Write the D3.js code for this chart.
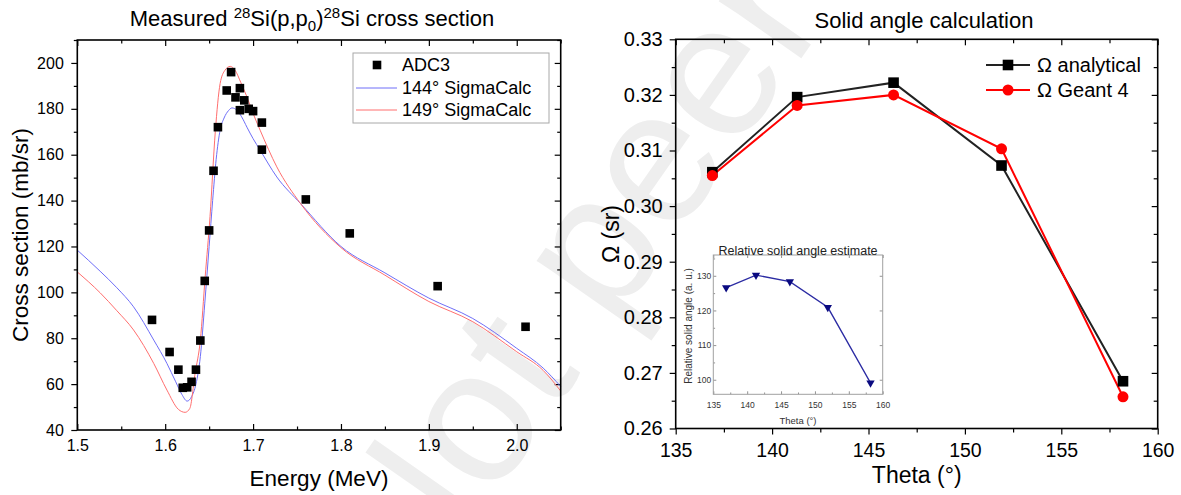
<!DOCTYPE html>
<html>
<head>
<meta charset="utf-8">
<script src="https://cdn.jsdelivr.net/npm/d3@7"></script>
<style>
    body { margin: 0; background: #fff; }
    svg { display: block; font-family: 'Liberation Sans', Arial, sans-serif; }
    .tick line { stroke: #000; stroke-width: 1.2; }
    .inset .tick line { stroke: #777; stroke-width: 0.8; }
</style>
</head>
<body>
<svg id="chart" width="1181" height="495"></svg>
<script>
// measured 28Si(p,p0) points
const adcEnergy = [1.585, 1.605, 1.615, 1.62, 1.625, 1.63, 1.635, 1.64, 1.645, 1.65, 1.655, 1.66, 1.67,
    1.675, 1.68, 1.685, 1.685, 1.69, 1.695, 1.70, 1.71, 1.71, 1.76, 1.81, 1.91, 2.01];
const adcSigma = [88, 74, 66.3, 58.4, 58.6, 61, 66.3, 79, 105, 127, 153, 172, 188,
    196, 185, 189, 179.4, 183.7, 180, 179, 174, 162.2, 140.5, 125.7, 102.7, 85];

// SigmaCalc curves
const calc144Energy = [1.50, 1.526, 1.545, 1.564, 1.587, 1.602, 1.612, 1.619, 1.625, 1.630, 1.635, 1.640, 1.645,
    1.650, 1.654, 1.658, 1.6625, 1.667, 1.672, 1.676, 1.6815, 1.687, 1.693, 1.700, 1.708, 1.727, 1.754, 1.80,
    1.85, 1.90, 1.95, 2.00, 2.03, 2.05];
const calc144Sigma = [118.4, 109.2, 102, 93.7, 79.2, 69.0, 61, 55.5, 52.6, 54.5, 60, 72, 95,
    120, 140, 158, 170.7, 176, 179.2, 180.4, 179.4, 176.5, 172, 167, 162, 150.3, 138.7, 120,
    108.5, 97.5, 88.6, 75.6, 67, 59];
const calc149Energy = [1.50, 1.526, 1.545, 1.564, 1.587, 1.602, 1.615, 1.6227, 1.628, 1.634, 1.640, 1.6455, 1.651,
    1.657, 1.6625, 1.668, 1.674, 1.6796, 1.686, 1.693, 1.700, 1.708, 1.727, 1.754, 1.80,
    1.85, 1.90, 1.95, 2.00, 2.03, 2.05];
const calc149Sigma = [108.9, 99.8, 92, 83.6, 69, 57.4, 49, 47.7, 49.4, 64.7, 79.2, 106.8, 133,
    170, 191, 196.8, 198.5, 196.8, 191.5, 185.2, 178, 170.7, 154.7, 138.7, 119.5,
    107.5, 96, 87.2, 74.1, 66, 57];

// solid angle
const theta = [136.9, 141.3, 146.3, 151.9, 158.2];
const omegaAnalytical = [0.3061, 0.3196, 0.3222, 0.3073, 0.2685];
const omegaGeant = [0.3055, 0.3181, 0.3200, 0.3103, 0.2657];
const relativeSolidAngle = [126.6, 130.2, 128.3, 120.9, 99.1];

const leftXTicks = [1.5, 1.6, 1.7, 1.8, 1.9, 2.0];
const leftYTicks = [40, 60, 80, 100, 120, 140, 160, 180, 200];
const rightXTicks = [135, 140, 145, 150, 155, 160];
const rightYTicks = [0.26, 0.27, 0.28, 0.29, 0.30, 0.31, 0.32, 0.33];
const insetYTicks = [100, 110, 120, 130];

const svg = d3.select('#chart');

// watermark
svg.append('text')
    .attr('transform', 'translate(412,614) rotate(-55)')
    .attr('font-size', 190)
    .attr('fill', '#eeeeee')
    .text('Not peer reviewed');

const frame = (g, x, y, stroke, sw) => {
    g.append('rect')
        .attr('x', x.range()[0]).attr('y', y.range()[1])
        .attr('width', x.range()[1] - x.range()[0])
        .attr('height', y.range()[0] - y.range()[1])
        .attr('fill', 'none').attr('stroke', stroke).attr('stroke-width', sw);
};

const addAxis = (g, axis, tx, ty, fontSize) => {
    const a = g.append('g')
        .attr('transform', `translate(${tx},${ty})`)
        .call(axis);
    a.select('.domain').remove();
    a.selectAll('text').attr('font-size', fontSize).attr('fill', '#000');
    return a;
};

const seq = (a, b, s) => d3.range(Math.round((b - a) / s) + 1).map(i => +(a + i * s).toFixed(4));

// ---------- left chart ----------
const xL = d3.scaleLinear().domain([1.5, 2.05]).range([77.3, 560.7]);
const yL = d3.scaleLinear().domain([40, 210]).range([430, 40]);
const gL = svg.append('g');

addAxis(gL, d3.axisBottom(xL).tickValues(leftXTicks).tickFormat(d3.format('.1f')).tickSize(-6).tickPadding(9.5), 0, 430, 16);
addAxis(gL, d3.axisBottom(xL).tickValues(seq(1.55, 2.05, 0.1)).tickFormat('').tickSize(-3.5), 0, 430, 16);
addAxis(gL, d3.axisTop(xL).tickValues(leftXTicks).tickFormat('').tickSize(-6), 0, 40, 16);
addAxis(gL, d3.axisTop(xL).tickValues(seq(1.55, 2.05, 0.1)).tickFormat('').tickSize(-3.5), 0, 40, 16);
addAxis(gL, d3.axisLeft(yL).tickValues(leftYTicks).tickSize(6).tickPadding(7.5), 77.3, 0, 16);
addAxis(gL, d3.axisLeft(yL).tickValues(seq(50, 210, 20)).tickFormat('').tickSize(3.5), 77.3, 0, 16);
addAxis(gL, d3.axisRight(yL).tickValues(leftYTicks).tickFormat('').tickSize(-6), 560.7, 0, 16);
addAxis(gL, d3.axisRight(yL).tickValues(seq(50, 210, 20)).tickFormat('').tickSize(-3.5), 560.7, 0, 16);

const lineL = d3.line().x(d => xL(d[0])).y(d => yL(d[1])).curve(d3.curveMonotoneX);
gL.append('path')
    .datum(d3.zip(calc144Energy, calc144Sigma))
    .attr('d', lineL).attr('fill', 'none').attr('stroke', '#6e6ef8').attr('stroke-width', 1);
gL.append('path')
    .datum(d3.zip(calc149Energy, calc149Sigma))
    .attr('d', lineL).attr('fill', 'none').attr('stroke', '#ff6e6e').attr('stroke-width', 1);

gL.selectAll('rect.adc')
    .data(d3.zip(adcEnergy, adcSigma))
    .join('rect')
    .attr('class', 'adc')
    .attr('x', d => xL(d[0]) - 4.3).attr('y', d => yL(d[1]) - 4.3)
    .attr('width', 8.6).attr('height', 8.6).attr('fill', '#000');

frame(gL, xL, yL, '#000', 1.6);

// legend left
const legL = gL.append('g');
legL.append('rect').attr('x', 353).attr('y', 53).attr('width', 196).attr('height', 70)
    .attr('fill', '#fff').attr('stroke', '#a8a8a8').attr('stroke-width', 1);
legL.append('rect').attr('x', 372.7).attr('y', 60.7).attr('width', 8.6).attr('height', 8.6).attr('fill', '#000');
legL.append('line').attr('x1', 356).attr('x2', 397).attr('y1', 88).attr('y2', 88).attr('stroke', '#6e6ef8');
legL.append('line').attr('x1', 356).attr('x2', 397).attr('y1', 110).attr('y2', 110).attr('stroke', '#ff6e6e');
[['ADC3', 65], ['144° SigmaCalc', 88], ['149° SigmaCalc', 110]].forEach(([t, y]) => {
    legL.append('text').attr('x', 402).attr('y', y).attr('dy', '0.35em')
        .attr('font-size', 18).text(t);
});

// titles left
const tL = svg.append('text').attr('x', 312).attr('y', 26).attr('text-anchor', 'middle').attr('font-size', 22);
tL.append('tspan').text('Measured ');
tL.append('tspan').attr('dy', -8.5).attr('font-size', 15).text('28');
tL.append('tspan').attr('dy', 8.5).text('Si(p,p');
tL.append('tspan').attr('dy', 5).attr('font-size', 15).text('0');
tL.append('tspan').attr('dy', -5).text(')');
tL.append('tspan').attr('dy', -8.5).attr('font-size', 15).text('28');
tL.append('tspan').attr('dy', 8.5).text('Si cross section');

svg.append('text').attr('x', 319).attr('y', 478).attr('dy', '0.35em')
    .attr('text-anchor', 'middle').attr('font-size', 22.5).text('Energy (MeV)');
svg.append('text').attr('transform', 'translate(20,235) rotate(-90)').attr('dy', '0.35em')
    .attr('text-anchor', 'middle').attr('font-size', 22.5).text('Cross section (mb/sr)');

// ---------- right chart ----------
const xR = d3.scaleLinear().domain([135, 160]).range([675.7, 1157.7]);
const yR = d3.scaleLinear().domain([0.26, 0.33]).range([428.5, 39.3]);
const gR = svg.append('g');

addAxis(gR, d3.axisBottom(xR).tickValues(rightXTicks).tickSize(6).tickPadding(8.5), 0, 428.5, 19.5);
addAxis(gR, d3.axisBottom(xR).tickValues(seq(137.5, 157.5, 5)).tickFormat('').tickSize(4), 0, 428.5, 19);
addAxis(gR, d3.axisTop(xR).tickValues(rightXTicks).tickFormat('').tickSize(-6), 0, 39.3, 19);
addAxis(gR, d3.axisTop(xR).tickValues(seq(137.5, 157.5, 5)).tickFormat('').tickSize(-4), 0, 39.3, 19);
addAxis(gR, d3.axisLeft(yR).tickValues(rightYTicks).tickFormat(d3.format('.2f')).tickSize(6).tickPadding(7), 675.7, 0, 20);
addAxis(gR, d3.axisLeft(yR).tickValues(seq(0.265, 0.325, 0.01)).tickFormat('').tickSize(4), 675.7, 0, 20);
addAxis(gR, d3.axisRight(yR).tickValues(rightYTicks).tickFormat('').tickSize(-6), 1157.7, 0, 20);
addAxis(gR, d3.axisRight(yR).tickValues(seq(0.265, 0.325, 0.01)).tickFormat('').tickSize(-4), 1157.7, 0, 20);

const lineR = d3.line().x(d => xR(d[0])).y(d => yR(d[1]));
gR.append('path').datum(d3.zip(theta, omegaAnalytical))
    .attr('d', lineR).attr('fill', 'none').attr('stroke', '#222').attr('stroke-width', 2);
gR.append('path').datum(d3.zip(theta, omegaGeant))
    .attr('d', lineR).attr('fill', 'none').attr('stroke', '#ff0000').attr('stroke-width', 2);
gR.selectAll('rect.an').data(d3.zip(theta, omegaAnalytical)).join('rect').attr('class', 'an')
    .attr('x', d => xR(d[0]) - 5.3).attr('y', d => yR(d[1]) - 5.3)
    .attr('width', 10.6).attr('height', 10.6).attr('fill', '#000');
gR.selectAll('circle.ge').data(d3.zip(theta, omegaGeant)).join('circle').attr('class', 'ge')
    .attr('cx', d => xR(d[0])).attr('cy', d => yR(d[1])).attr('r', 5.5).attr('fill', '#ff0000');

frame(gR, xR, yR, '#000', 1.6);

// legend right
const legR = gR.append('g');
legR.append('line').attr('x1', 986).attr('x2', 1030).attr('y1', 65).attr('y2', 65).attr('stroke', '#222').attr('stroke-width', 2);
legR.append('rect').attr('x', 1002.7).attr('y', 59.7).attr('width', 10.6).attr('height', 10.6).attr('fill', '#000');
legR.append('line').attr('x1', 986).attr('x2', 1030).attr('y1', 90).attr('y2', 90).attr('stroke', '#ff0000').attr('stroke-width', 2);
legR.append('circle').attr('cx', 1008).attr('cy', 90).attr('r', 5.5).attr('fill', '#ff0000');
[['Ω analytical', 65], ['Ω Geant 4', 90]].forEach(([t, y]) => {
    legR.append('text').attr('x', 1037).attr('y', y).attr('dy', '0.35em').attr('font-size', 20).text(t);
});

svg.append('text').attr('x', 924).attr('y', 28).attr('text-anchor', 'middle').attr('font-size', 22).text('Solid angle calculation');
svg.append('text').attr('x', 916.7).attr('y', 475).attr('dy', '0.35em')
    .attr('text-anchor', 'middle').attr('font-size', 23).text('Theta (°)');
svg.append('text').attr('transform', 'translate(611,234) rotate(-90)').attr('dy', '0.35em')
    .attr('text-anchor', 'middle').attr('font-size', 23).text('Ω (sr)');

// ---------- inset ----------
const xI = d3.scaleLinear().domain([135, 160]).range([713.3, 882.7]);
const yI = d3.scaleLinear().domain([95.8, 136]).range([394.3, 255]);
const gI = svg.append('g').attr('class', 'inset');

addAxis(gI, d3.axisBottom(xI).tickValues(rightXTicks).tickSize(-3).tickPadding(8), 0, 394.3, 8.5);
addAxis(gI, d3.axisBottom(xI).tickValues(seq(137.5, 157.5, 5)).tickFormat('').tickSize(-1.8), 0, 394.3, 8.5);
addAxis(gI, d3.axisTop(xI).tickValues(rightXTicks).tickFormat('').tickSize(-3), 0, 255, 8.5);
addAxis(gI, d3.axisLeft(yI).tickValues(insetYTicks).tickSize(-3).tickPadding(2), 713.3, 0, 8.5);
addAxis(gI, d3.axisLeft(yI).tickValues([105, 115, 125, 135]).tickFormat('').tickSize(-1.8), 713.3, 0, 8.5);
addAxis(gI, d3.axisRight(yI).tickValues(insetYTicks).tickFormat('').tickSize(-3), 882.7, 0, 8.5);
gI.selectAll('text').attr('fill', '#333');

gI.append('path').datum(d3.zip(theta, relativeSolidAngle))
    .attr('d', d3.line().x(d => xI(d[0])).y(d => yI(d[1])))
    .attr('fill', 'none').attr('stroke', '#2b2ba3').attr('stroke-width', 1.3);
gI.selectAll('path.tri').data(d3.zip(theta, relativeSolidAngle)).join('path').attr('class', 'tri')
    .attr('d', d3.symbol(d3.symbolTriangle, 30))
    .attr('transform', d => `translate(${xI(d[0])},${yI(d[1])}) rotate(180)`)
    .attr('fill', '#0a0a80');

frame(gI, xI, yI, '#a0a0a0', 1);

gI.append('text').attr('x', 798).attr('y', 251).attr('dy', '0.35em')
    .attr('text-anchor', 'middle').attr('font-size', 12.5).attr('fill', '#222').text('Relative solid angle estimate');
gI.append('text').attr('x', 798).attr('y', 420.7).attr('dy', '0.35em')
    .attr('text-anchor', 'middle').attr('font-size', 9.5).attr('fill', '#333').text('Theta (°)');
gI.append('text').attr('transform', 'translate(688,326) rotate(-90)').attr('dy', '0.35em')
    .attr('text-anchor', 'middle').attr('font-size', 10).attr('fill', '#333').text('Relative solid angle (a. u.)');
</script>
</body>
</html>
